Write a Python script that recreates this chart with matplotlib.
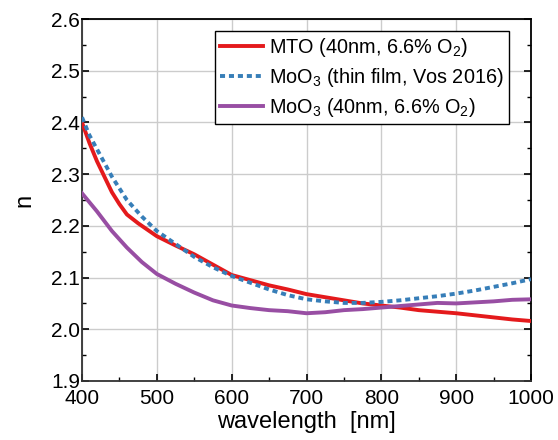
import matplotlib
matplotlib.use("Agg")
import matplotlib.pyplot as plt
from matplotlib.ticker import MultipleLocator, FormatStrFormatter

plt.rcParams['font.family'] = ['Liberation Sans', 'DejaVu Sans']
plt.rcParams['mathtext.fontset'] = 'custom'
plt.rcParams['mathtext.rm'] = 'Liberation Sans'
plt.rcParams['mathtext.it'] = 'Liberation Sans'

wl_mto = [400, 410, 420, 430, 440, 450, 460, 475, 500, 525, 550, 575, 600, 625, 650, 675,
          700, 725, 750, 775, 800, 825, 850, 875, 900, 925, 950, 975, 1000]
n_mto = [2.400, 2.360, 2.325, 2.295, 2.265, 2.242, 2.222, 2.205, 2.180, 2.162, 2.145, 2.125,
         2.105, 2.095, 2.085, 2.077, 2.068, 2.062, 2.056, 2.050, 2.046, 2.042, 2.037, 2.034,
         2.031, 2.027, 2.023, 2.019, 2.016]

wl_vos = [400, 410, 425, 440, 460, 480, 500, 525, 550, 575, 600, 625, 650, 675, 700, 725,
          750, 775, 800, 825, 850, 875, 900, 925, 950, 975, 1000]
n_vos = [2.410, 2.375, 2.335, 2.295, 2.250, 2.218, 2.190, 2.165, 2.140, 2.120, 2.103, 2.090,
         2.077, 2.066, 2.058, 2.054, 2.051, 2.051, 2.053, 2.056, 2.060, 2.064, 2.069, 2.075,
         2.082, 2.089, 2.097]

wl_moo = [400, 420, 440, 460, 480, 500, 525, 550, 575, 600, 625, 650, 675, 700, 725, 750,
          775, 800, 825, 850, 875, 900, 925, 950, 975, 1000]
n_moo = [2.263, 2.228, 2.190, 2.158, 2.130, 2.107, 2.088, 2.071, 2.056, 2.046, 2.041, 2.037,
         2.035, 2.031, 2.033, 2.037, 2.039, 2.042, 2.045, 2.048, 2.051, 2.050, 2.052, 2.054,
         2.057, 2.058]

labels = ["MTO (40nm, 6.6% O$_\\mathregular{2}$)",
          "MoO$_\\mathregular{3}$ (thin film, Vos 2016)",
          "MoO$_\\mathregular{3}$ (40nm, 6.6% O$_\\mathregular{2}$)"]

fig = plt.figure(figsize=(5.58, 4.40), dpi=100)
ax = fig.add_axes([82/558, 59/440, 449/558, 362/440])

ax.plot(wl_mto, n_mto, color='#e41a1c', lw=2.8, label=labels[0], zorder=3)
ax.plot(wl_vos, n_vos, color='#377eb8', lw=2.8, linestyle=(0, (1.3, 1.0)), label=labels[1], zorder=4)
ax.plot(wl_moo, n_moo, color='#984ea3', lw=2.8, label=labels[2], zorder=3)

ax.set_xlim(400, 1000)
ax.set_ylim(1.9, 2.6)
ax.xaxis.set_major_locator(MultipleLocator(100))
ax.xaxis.set_minor_locator(MultipleLocator(50))
ax.yaxis.set_major_locator(MultipleLocator(0.1))
ax.yaxis.set_minor_locator(MultipleLocator(0.05))
ax.yaxis.set_major_formatter(FormatStrFormatter('%.1f'))

ax.grid(True, which='major', color='#cccccc', lw=1.0, zorder=0)
ax.set_axisbelow(True)
ax.tick_params(which='both', direction='in', right=True, top=False, labelsize=15)
ax.tick_params(axis='x', which='both', pad=6)
ax.tick_params(axis='y', which='both', pad=1.5)
ax.tick_params(which='major', length=5, width=1.2)
ax.tick_params(which='minor', length=3, width=1.0)
for s in ax.spines.values():
    s.set_linewidth(1.3)
ax.spines['left'].set_color('#333333')
ax.spines['bottom'].set_color('#333333')

ax.set_xlabel("wavelength  [nm]", fontsize=17, labelpad=2)
ax.set_ylabel("n", fontsize=17, labelpad=11)

leg = ax.legend(loc='upper right', bbox_to_anchor=(0.951, 0.967), fontsize=14.3,
                frameon=True, fancybox=False, edgecolor='black', framealpha=1,
                handlelength=2.2, handletextpad=0.3, labelspacing=0.35, borderpad=0.25,
                borderaxespad=0)
leg.get_frame().set_linewidth(1.0)

fig.savefig("out.png", dpi=100)
